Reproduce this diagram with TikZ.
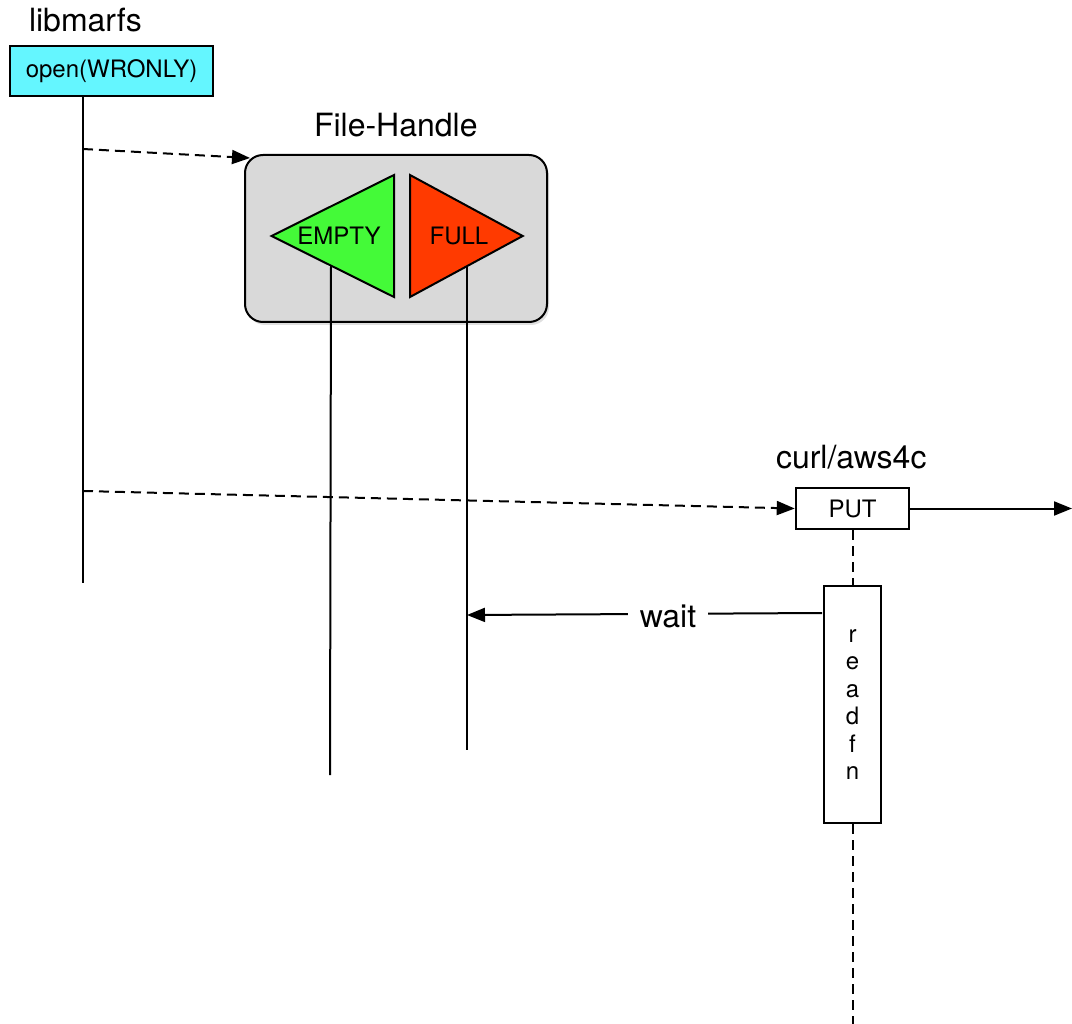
\documentclass[tikz,border=0pt]{standalone}
\usepackage{fontspec}
\setmainfont{TeX Gyre Heros}
\usetikzlibrary{arrows.meta,shadows}
\definecolor{openfill}{RGB}{100,246,255}
\definecolor{emptygreen}{RGB}{68,250,56}
\definecolor{fullred}{RGB}{255,58,0}
\definecolor{fhgray}{RGB}{217,217,217}
\begin{document}
\begin{tikzpicture}[x=1pt,y=-1pt, line width=2pt,
  big/.style={font=\fontsize{32}{38}\selectfont, inner sep=0pt},
  small/.style={font=\fontsize{24}{28}\selectfont},
  tip/.style={-{Triangle[length=18pt,width=14pt]}},
  dash line/.style={dash pattern=on 10pt off 6pt},
  box/.style={draw, inner sep=0pt, small},
]
\useasboundingbox (0,0) rectangle (1072,1024);

% libmarfs participant
\node[big, anchor=base west] (libt) at (28,32) {libmarfs};
\node[box, fill=openfill, minimum width=203pt, minimum height=50pt] (open) at (111.5,71) {open(WRONLY)};
\coordinate (libend) at (83,583);
\draw (open.south -| libend) -- (libend);

% file handle with its two states
\node[big, anchor=base west] (fht) at (313,137) {File-Handle};
\node[draw, fill=fhgray, rounded corners=18pt, minimum width=302pt, minimum height=167pt,
      drop shadow={shadow xshift=2pt, shadow yshift=-3pt, opacity=0.25}] (fh) at (396,238.5) {};
\draw[fill=emptygreen] (394,175) -- (394,297) -- (271.5,236) -- cycle;
\node[small, inner sep=0pt] (empty) at (339,236) {EMPTY};
\draw[fill=fullred] (410,175) -- (410,297) -- (522.7,236) -- cycle;
\node[small, inner sep=0pt] (full) at (459,236) {FULL};
\coordinate (emptytop) at (331,266);
\coordinate (emptyend) at (330,775);
\coordinate (fulltop) at (467,266);
\coordinate (fullend) at (467,750);
\draw (emptytop) -- (emptyend);
\draw (fulltop) -- (fullend);

% curl/aws4c participant
\node[big, anchor=base west] (curlt) at (775,468) {curl/aws4c};
\node[box, minimum width=113.5pt, minimum height=41pt] (put) at (852.5,508.5) {PUT};
\coordinate (outend) at (1072,508.5);
\draw[tip] (put.east) -- (outend);
\node[draw, minimum width=57pt, minimum height=237pt] (readfn) at (852.5,704.5) {};
\node[small, align=center, font=\fontsize{24}{27.5}\selectfont] (readfnt) at (readfn.center) {r\\e\\a\\d\\f\\n};
\coordinate (curlend) at (852.5,1024);
\draw[dash line] (put.south) -- (readfn.north);
\draw[dash line] (readfn.south) -- (curlend);

% messages
\coordinate (m1) at (83,149);
\coordinate (fhin) at (250,158);
\draw[dash line, tip] (m1) -- (fhin);
\coordinate (m2) at (83,491);
\draw[dash line, tip] (m2) -- (put.west);
\coordinate (waitstart) at (822,613);
\coordinate (waitend) at (467,615);
\draw[tip] (waitstart) -- (waitend);
\node[big, fill=white, inner xsep=12pt, inner ysep=2pt, anchor=base] (waitt) at (668,627) {wait};
\end{tikzpicture}
\end{document}
